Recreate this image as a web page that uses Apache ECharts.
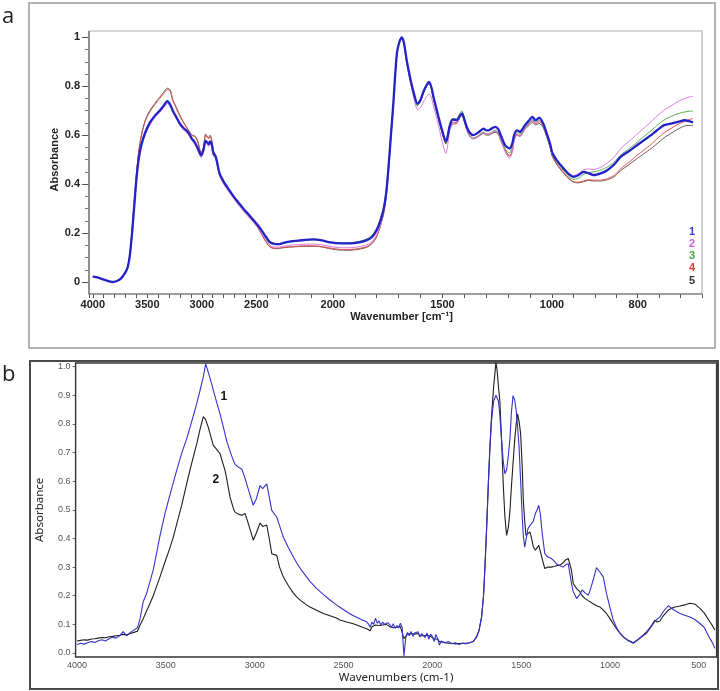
<!DOCTYPE html>
<html><head><meta charset="utf-8">
<script src="https://cdn.jsdelivr.net/npm/echarts@6/dist/echarts.min.js"></script>
<style>html,body{margin:0;padding:0;background:#fff}#c{width:720px;height:691px}</style>
</head><body><div id="c"></div>
<script>
// ---------- Panel a data (wavenumber grid + 5 spectra) ----------
const aWn = [
4000,3950,3900,3850,3817,3780,3740,3700,3680,3660,
3640,3620,3600,3580,3555,3520,3478,3430,3387,3350,
3317,3290,3266,3235,3205,3170,3128,3090,3067,3040,
3006,2985,2966,2950,2936,2925,2910,2893,2875,2860,
2838,2800,2747,2700,2655,2600,2564,2520,2488,2450,
2412,2380,2351,2320,2290,2250,2200,2150,2089,2050,
2013,1960,1921,1880,1845,1820,1800,1785,1769,1757,
1747,1735,1724,1708,1695,1685,1675,1663,1648,1630,
1614,1600,1587,1572,1561,1550,1541,1518,1500,1484,
1475,1468,1453,1434,1420,1411,1400,1389,1375,1358,
1335,1313,1300,1290,1270,1259,1245,1237,1215,1200,
1192,1180,1173,1161,1146,1135,1123,1105,1090,1074,
1058,1040,1025,1009,1000,989,973,960,950,940,
926,915,903,885,871,855,840,820,801,785,
769,755,738,720,706,690,680,671];
const aS1 = [
0.022,0.018,0.010,0.003,0.000,0.004,0.015,0.040,0.060,0.110,
0.200,0.310,0.420,0.500,0.560,0.610,0.650,0.680,0.700,0.720,
0.739,0.725,0.700,0.675,0.650,0.630,0.613,0.585,0.573,0.550,
0.518,0.540,0.578,0.570,0.563,0.575,0.565,0.525,0.515,0.490,
0.445,0.410,0.375,0.345,0.320,0.290,0.273,0.250,0.233,0.210,
0.185,0.165,0.158,0.155,0.155,0.160,0.165,0.170,0.174,0.170,
0.162,0.158,0.158,0.162,0.171,0.185,0.212,0.245,0.294,0.360,
0.457,0.600,0.729,0.933,0.985,1.000,0.975,0.906,0.838,0.770,
0.729,0.745,0.777,0.805,0.818,0.795,0.757,0.675,0.615,0.573,
0.600,0.634,0.664,0.661,0.680,0.689,0.665,0.634,0.610,0.600,
0.612,0.627,0.620,0.620,0.630,0.634,0.625,0.607,0.560,0.548,
0.546,0.570,0.600,0.620,0.613,0.625,0.641,0.660,0.675,0.661,
0.672,0.648,0.610,0.566,0.530,0.498,0.464,0.440,0.430,0.435,
0.450,0.445,0.437,0.445,0.457,0.480,0.511,0.535,0.560,0.580,
0.600,0.620,0.641,0.648,0.654,0.661,0.657,0.652];
const aS2 = [
0.022,0.018,0.010,0.003,0.000,0.004,0.015,0.040,0.060,0.108,
0.195,0.300,0.410,0.490,0.550,0.600,0.640,0.672,0.692,0.712,
0.730,0.718,0.693,0.668,0.643,0.622,0.605,0.578,0.565,0.540,
0.508,0.530,0.568,0.560,0.553,0.565,0.555,0.515,0.505,0.480,
0.435,0.400,0.365,0.335,0.310,0.280,0.262,0.240,0.222,0.198,
0.172,0.152,0.145,0.143,0.143,0.146,0.150,0.153,0.155,0.152,
0.145,0.140,0.140,0.144,0.152,0.166,0.193,0.228,0.280,0.348,
0.448,0.595,0.725,0.930,0.985,0.999,0.972,0.900,0.825,0.750,
0.705,0.712,0.735,0.758,0.768,0.752,0.720,0.640,0.570,0.525,
0.565,0.615,0.648,0.650,0.672,0.682,0.655,0.620,0.595,0.585,
0.597,0.610,0.604,0.604,0.613,0.617,0.608,0.588,0.535,0.510,
0.506,0.535,0.575,0.600,0.595,0.607,0.625,0.645,0.660,0.648,
0.660,0.638,0.600,0.558,0.525,0.495,0.462,0.442,0.435,0.442,
0.458,0.462,0.460,0.470,0.486,0.510,0.545,0.575,0.605,0.630,
0.655,0.678,0.703,0.722,0.738,0.750,0.756,0.758];
const aS3 = [
0.022,0.018,0.010,0.003,0.000,0.004,0.015,0.040,0.060,0.110,
0.200,0.310,0.420,0.500,0.558,0.608,0.648,0.678,0.698,0.718,
0.737,0.723,0.698,0.673,0.648,0.628,0.611,0.583,0.571,0.548,
0.516,0.538,0.580,0.572,0.565,0.577,0.566,0.524,0.513,0.488,
0.443,0.408,0.372,0.342,0.317,0.287,0.270,0.247,0.230,0.206,
0.180,0.160,0.155,0.153,0.153,0.158,0.163,0.168,0.172,0.170,
0.163,0.160,0.161,0.166,0.176,0.192,0.220,0.255,0.303,0.370,
0.465,0.605,0.730,0.932,0.985,0.999,0.974,0.904,0.834,0.765,
0.722,0.740,0.772,0.800,0.815,0.793,0.755,0.672,0.612,0.565,
0.598,0.636,0.668,0.667,0.690,0.700,0.672,0.632,0.598,0.588,
0.600,0.613,0.606,0.606,0.616,0.620,0.612,0.594,0.547,0.530,
0.528,0.555,0.590,0.610,0.603,0.615,0.632,0.650,0.664,0.652,
0.662,0.640,0.603,0.560,0.525,0.490,0.455,0.430,0.420,0.422,
0.440,0.448,0.450,0.458,0.470,0.490,0.518,0.545,0.572,0.595,
0.618,0.640,0.663,0.678,0.688,0.695,0.698,0.698];
const aS4 = [
0.022,0.018,0.010,0.003,0.000,0.004,0.015,0.040,0.060,0.113,
0.208,0.328,0.438,0.525,0.595,0.655,0.695,0.725,0.750,0.770,
0.786,0.780,0.740,0.710,0.680,0.652,0.622,0.598,0.595,0.576,
0.526,0.546,0.600,0.590,0.585,0.596,0.580,0.532,0.518,0.488,
0.443,0.408,0.370,0.340,0.313,0.283,0.266,0.243,0.223,0.193,
0.165,0.146,0.140,0.138,0.139,0.142,0.144,0.147,0.148,0.145,
0.139,0.133,0.133,0.137,0.145,0.161,0.188,0.225,0.278,0.348,
0.447,0.592,0.724,0.930,0.985,0.998,0.972,0.900,0.830,0.762,
0.722,0.740,0.772,0.800,0.812,0.790,0.752,0.668,0.608,0.567,
0.593,0.625,0.652,0.652,0.675,0.683,0.658,0.625,0.597,0.587,
0.598,0.610,0.603,0.603,0.611,0.615,0.606,0.588,0.543,0.520,
0.517,0.543,0.583,0.603,0.597,0.610,0.627,0.645,0.658,0.647,
0.655,0.635,0.598,0.553,0.518,0.483,0.448,0.423,0.410,0.408,
0.413,0.418,0.416,0.417,0.422,0.436,0.462,0.490,0.518,0.540,
0.562,0.585,0.610,0.630,0.645,0.657,0.664,0.668];
const aS5 = [
0.022,0.018,0.010,0.003,0.000,0.004,0.015,0.040,0.060,0.115,
0.210,0.330,0.440,0.530,0.600,0.660,0.700,0.730,0.755,0.775,
0.792,0.785,0.745,0.715,0.685,0.655,0.625,0.600,0.598,0.580,
0.530,0.550,0.605,0.595,0.590,0.600,0.585,0.535,0.520,0.490,
0.445,0.410,0.372,0.342,0.315,0.285,0.268,0.245,0.225,0.195,
0.165,0.145,0.138,0.136,0.137,0.140,0.142,0.145,0.146,0.143,
0.136,0.130,0.130,0.134,0.142,0.158,0.185,0.222,0.275,0.345,
0.445,0.590,0.722,0.930,0.985,0.998,0.972,0.900,0.828,0.760,
0.720,0.738,0.770,0.800,0.812,0.790,0.750,0.665,0.605,0.565,
0.590,0.620,0.645,0.648,0.672,0.680,0.655,0.622,0.595,0.585,
0.595,0.607,0.600,0.600,0.608,0.612,0.603,0.585,0.540,0.518,
0.515,0.540,0.580,0.600,0.595,0.608,0.625,0.640,0.652,0.642,
0.648,0.630,0.595,0.550,0.515,0.480,0.445,0.420,0.408,0.405,
0.410,0.415,0.413,0.413,0.418,0.430,0.455,0.480,0.505,0.525,
0.545,0.565,0.590,0.610,0.625,0.638,0.640,0.640];
const aNames = ['1','2','3','4','5'];
const aTicks1 = [4000,3500,3000,2500];
const aTicks2 = [2000,1500,1000];
const aTicks3 = [800];

// ---------- Panel b data ----------
const bWn = [
4000,3980,3960,3940,3920,3900,3880,3860,3840,3820,3800,3780,3760,3740,3720,3700,3680,3660,
3645,3627,3610,3589,3571,3550,3533,3505,3480,3458,
3439,3410,3383,3364,3340,3326,3308,3289,3276,3261,
3242,3233,3215,3195,3167,3158,3139,3120,3111,3092,
3073,3054,3045,3025,3008,2990,2970,2955,2932,2918,
2904,2876,2860,2839,2810,2783,2764,2740,2708,2689,
2651,2614,2576,2540,2520,2482,2450,2426,2400,2370,
2360,2350,2340,2330,2320,2310,2300,2290,2280,2270,
2260,2250,2240,2230,2220,2210,2200,2190,2180,2170,
2160,2150,2140,2130,2120,2110,2100,2090,2080,2070,
2060,2050,2040,2030,2020,2010,2000,1990,1980,1970,
1960,1950,
1930,1910,1890,1870,1850,1830,1810,1790,1770,
1751,1737,1723,1712,1704,1695,1685,1676,1667,1655,
1642,1635,1628,1620,1610,1601,1592,1582,1572,1563,
1555,1546,1537,1528,1520,1512,1503,1494,1488,1480,
1473,1462,1451,1443,1432,1420,1410,1401,1391,1382,
1367,1350,1330,1315,1302,1282,1264,1250,1235,1217,
1207,1188,1170,1157,1140,1123,1114,1095,1076,1057,
1038,1020,1001,982,960,944,926,900,869,840,
814,794,770,747,735,719,700,672,662,640,
606,580,550,520,494,470,438,420,410];
const bS1 = [
0.030,0.034,0.031,0.036,0.040,0.037,0.043,0.046,0.042,0.050,0.055,0.052,0.060,0.075,0.060,0.072,0.080,0.088,
0.120,0.180,0.205,0.250,0.290,0.355,0.410,0.487,0.545,0.595,
0.638,0.700,0.748,0.788,0.840,0.872,0.916,0.965,1.010,0.980,
0.940,0.918,0.878,0.835,0.765,0.742,0.705,0.672,0.660,0.649,
0.643,0.610,0.591,0.550,0.516,0.540,0.585,0.574,0.591,0.545,
0.498,0.475,0.445,0.405,0.368,0.336,0.315,0.292,0.266,0.250,
0.225,0.205,0.185,0.168,0.160,0.144,0.132,0.125,0.117,0.109,
0.102,0.090,0.108,0.100,0.122,0.104,0.112,0.098,0.108,0.100,
0.094,0.106,0.098,0.090,0.102,0.086,0.096,0.088,0.104,0.090,
-0.010,0.052,0.072,0.060,0.075,0.058,0.070,0.066,0.074,0.056,
0.068,0.062,0.054,0.070,0.048,0.066,0.058,0.040,0.065,0.050,
0.028,0.042,
0.036,0.040,0.032,0.036,0.030,0.034,0.032,0.036,0.040,
0.055,0.078,0.124,0.198,0.298,0.425,0.585,0.715,0.810,0.880,
0.900,0.905,0.880,0.830,0.742,0.670,0.626,0.640,0.690,0.750,
0.840,0.899,0.885,0.847,0.790,0.720,0.600,0.475,0.410,0.370,
0.395,0.434,0.445,0.440,0.460,0.487,0.500,0.516,0.480,0.420,
0.347,0.335,0.330,0.322,0.312,0.305,0.300,0.308,0.312,0.243,
0.215,0.190,0.205,0.220,0.210,0.202,0.215,0.254,0.298,0.283,
0.266,0.208,0.160,0.115,0.085,0.070,0.057,0.044,0.034,0.048,
0.060,0.069,0.090,0.110,0.118,0.126,0.145,0.165,0.160,0.150,
0.138,0.132,0.126,0.116,0.103,0.090,0.051,0.032,0.016];
const bS2 = [
0.042,0.044,0.046,0.045,0.049,0.050,0.052,0.054,0.053,0.057,0.058,0.060,0.062,0.065,0.064,0.068,0.072,0.076,
0.098,0.120,0.145,0.174,0.200,0.236,0.266,0.318,0.362,0.405,
0.450,0.518,0.591,0.640,0.698,0.731,0.780,0.826,0.815,0.788,
0.745,0.725,0.712,0.696,0.638,0.610,0.545,0.505,0.492,0.485,
0.481,0.487,0.470,0.430,0.394,0.420,0.454,0.442,0.447,0.400,
0.347,0.341,0.300,0.266,0.235,0.210,0.196,0.183,0.168,0.161,
0.149,0.138,0.130,0.122,0.115,0.108,0.103,0.098,0.092,0.085,
0.080,0.078,0.092,0.094,0.098,0.100,0.096,0.102,0.098,0.094,
0.100,0.096,0.092,0.098,0.088,0.094,0.090,0.084,0.092,0.086,
0.050,0.056,0.066,0.062,0.068,0.064,0.066,0.062,0.068,0.060,
0.064,0.060,0.058,0.062,0.056,0.058,0.054,0.050,0.052,0.048,
0.040,0.038,
0.036,0.034,0.034,0.032,0.033,0.034,0.034,0.036,0.040,
0.057,0.080,0.126,0.200,0.300,0.430,0.590,0.720,0.825,0.930,
1.015,0.985,0.930,0.880,0.740,0.590,0.480,0.411,0.440,0.498,
0.580,0.660,0.740,0.800,0.835,0.810,0.766,0.650,0.533,0.460,
0.411,0.415,0.423,0.405,0.372,0.359,0.368,0.376,0.370,0.330,
0.295,0.300,0.300,0.302,0.305,0.307,0.315,0.325,0.330,0.290,
0.243,0.225,0.214,0.200,0.190,0.183,0.179,0.172,0.165,0.161,
0.150,0.138,0.121,0.102,0.082,0.069,0.056,0.045,0.036,0.048,
0.062,0.074,0.092,0.115,0.108,0.112,0.130,0.150,0.156,0.160,
0.164,0.168,0.174,0.170,0.156,0.140,0.109,0.092,0.080];
const bTicks = [4000,3500,3000,2500,2000,1500,1000,500];
const bLabel1 = {text:'1', wn:3173, y:0.895};
const bLabel2 = {text:'2', wn:3218, y:0.606};

[aS1,aS2,aS3,aS4,aS5].forEach((s,i)=>{ if(s.length!==aWn.length) throw new Error('aS'+(i+1)+' length '+s.length+' vs '+aWn.length); });
[bS1,bS2].forEach((s,i)=>{ if(s.length!==bWn.length) throw new Error('bS'+(i+1)+' length '+s.length+' vs '+bWn.length); });

// ---------- layout ----------
const aColors = ['#2323c8','#e07ae0','#52b052','#e05050','#6a5a50'];
const aLegendColors = ['#3a3ad8','#d85ad8','#3fa03f','#e03a3a','#333333'];
const aWidths = [2.3,1,1,1,1];
const FA = 'Liberation Sans, Arial, sans-serif';
const aTop = 37.3, aH = 244.7;
const aSegs = [
  {min:2200,max:4035,left:89,width:200,interval:100,ticks:aTicks1},
  {min:1000,max:2200,left:289,width:263,interval:100,ticks:aTicks2},
  {min:650,max:1000,left:552,width:150,interval:50,ticks:aTicks3}
];
const grids=[], xAxes=[], yAxes=[], series=[];
aSegs.forEach((sg,k)=>{
  grids.push({left:sg.left, top:aTop, width:sg.width, height:aH, containLabel:false});
  const ax = {type:'value', gridIndex:k, min:sg.min, max:sg.max, interval:sg.interval, inverse:true, offset:12,
    axisLine:{show:false,onZero:false}, splitLine:{show:false},
    axisTick:{show:true,length:4,lineStyle:{color:'#555',width:1}},
    axisLabel:{margin:5,fontFamily:FA,fontSize:11,fontWeight:'bold',color:'#222',
      formatter:(v)=>{const r=Math.round(v);return sg.ticks.indexOf(r)>=0?String(r):'';}}};
  if(k===1){ ax.name='Wavenumber [cm⁻¹]'; ax.nameLocation='middle'; ax.nameGap=17;
    ax.nameTextStyle={fontFamily:FA,fontSize:11,fontWeight:'bold',color:'#222',padding:[0,38,0,0]}; }
  xAxes.push(ax);
  const ay = {type:'value', gridIndex:k, min:0, max:1, interval:0.2, show:k===0,
    axisLine:{show:false,onZero:false}, splitLine:{show:false},
    axisTick:{show:true,length:7,lineStyle:{color:'#555'}},
    minorTick:{show:true,splitNumber:4,length:4,lineStyle:{color:'#777'}},
    axisLabel:{margin:9,fontFamily:FA,fontSize:11,fontWeight:'bold',color:'#222',
      formatter:(v)=>{const r=Math.round(v*10)/10; return (r===0||r===1)?String(r):r.toFixed(1);}},
    name:'Absorbance', nameLocation:'middle', nameGap:29,
    nameTextStyle:{fontFamily:FA,fontSize:11,fontWeight:'bold',color:'#222'}};
  yAxes.push(ay);
  const arrs=[aS1,aS2,aS3,aS4,aS5];
  [4,3,2,1,0].forEach(i=>{
    series.push({type:'line', name:aNames[i], xAxisIndex:k, yAxisIndex:k, symbol:'none', smooth:0.25,
      clip:false, animation:false, z:i===0?5:3,
      lineStyle:{color:aColors[i], width:aWidths[i]}, itemStyle:{color:aColors[i]},
      data: aWn.map((w,j)=>[w,arrs[i][j]]).filter(p=>p[0]>=sg.min && p[0]<=sg.max)});
  });
});
// panel b
const bLeft=75.6, bWidth=641, bTop=366.7, bH=286.3;
const FB = 'Liberation Sans, Arial, sans-serif';
grids.push({left:bLeft, top:bTop, width:bWidth, height:bH});
xAxes.push({type:'value', gridIndex:3, min:400, max:4008, interval:100, inverse:true, offset:4,
  axisLine:{show:false,onZero:false}, axisTick:{show:false}, splitLine:{show:false},
  axisLabel:{margin:4,fontFamily:FB,fontSize:9,color:'#555',
    formatter:(v)=>{const r=Math.round(v);return bTicks.indexOf(r)>=0?String(r):'';}},
  name:'Wavenumbers (cm-1)', nameLocation:'middle', nameGap:15,
  nameTextStyle:{fontFamily:'Noto Sans, sans-serif',fontSize:11.5,color:'#222'}});
yAxes.push({type:'value', gridIndex:3, min:0, max:1, interval:0.1,
  axisLine:{show:false,onZero:false}, splitLine:{show:false},
  axisTick:{show:true,length:3,lineStyle:{color:'#666'}},
  axisLabel:{margin:5,fontFamily:FB,fontSize:9,color:'#555',formatter:(v)=>v.toFixed(1)},
  name:'Absorbance', nameLocation:'middle', nameGap:30,
  nameTextStyle:{fontFamily:'Noto Sans, sans-serif',fontSize:11.5,color:'#222'}});
const mk=(l)=>({symbol:'circle',symbolSize:1,itemStyle:{color:'transparent'},
  label:{show:true,position:'inside',formatter:l.text,fontFamily:FA,fontSize:12,fontWeight:'bold',color:'#111'},
  data:[{coord:[l.wn,l.y]}]});
series.push({type:'line', name:'b-2', xAxisIndex:3, yAxisIndex:3, symbol:'none', clip:false, animation:false,
  lineStyle:{color:'#1e1e1e',width:1.1}, itemStyle:{color:'#1e1e1e'},
  data:bWn.map((w,j)=>[w,bS2[j]]), markPoint:mk(bLabel2)});
series.push({type:'line', name:'b-1', xAxisIndex:3, yAxisIndex:3, symbol:'none', clip:false, animation:false,
  lineStyle:{color:'#3434cc',width:1.1}, itemStyle:{color:'#3434cc'},
  data:bWn.map((w,j)=>[w,bS1[j]]), markPoint:mk(bLabel1)});

const chart = echarts.init(document.getElementById('c'), null, {renderer:'canvas'});
chart.setOption({
  animation:false, backgroundColor:'#fff',
  grid:grids, xAxis:xAxes, yAxis:yAxes, series:series,
  legend:{orient:'vertical', left:684, top:225, padding:0, itemWidth:0, itemHeight:13, itemGap:0.3,
    icon:'none', selectedMode:false,
    textStyle:{fontFamily:FA,fontSize:11,fontWeight:'bold',padding:0},
    data:aNames.map((n,i)=>({name:n, textStyle:{color:aLegendColors[i]}}))},
  graphic:[
    {type:'rect', silent:true, z:100, shape:{x:29,y:3,width:686,height:345}, style:{fill:'none',stroke:'#9a9a9a',lineWidth:1.5}},
    {type:'rect', silent:true, z:100, shape:{x:89,y:31,width:613,height:263}, style:{fill:'none',stroke:'#b0b0b0',lineWidth:1.2}},
    {type:'polyline', silent:true, z:101, shape:{points:[[89,31],[89,294],[702,294]]}, style:{fill:'none',stroke:'#666',lineWidth:1.2}},
    {type:'rect', silent:true, z:100, shape:{x:30,y:361,width:688,height:328}, style:{fill:'none',stroke:'#4a4a4a',lineWidth:2}},
    {type:'rect', silent:true, z:100, shape:{x:bLeft,y:363,width:bWidth,height:294}, style:{fill:'none',stroke:'#333',lineWidth:1.4}},
    {type:'text', silent:true, left:2, top:6, style:{text:'a', font:'22px "Open Sans", sans-serif', fill:'#222'}},
    {type:'text', silent:true, left:2, top:364, style:{text:'b', font:'22px "Open Sans", sans-serif', fill:'#222'}}
  ]
});
</script></body></html>
